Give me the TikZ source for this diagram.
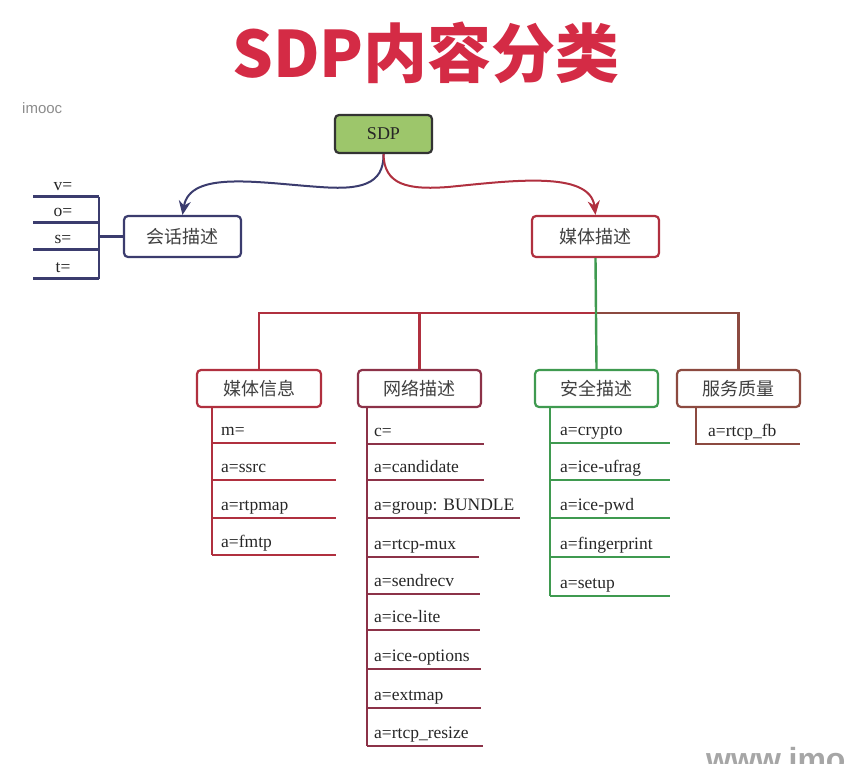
\documentclass[tikz,border=0pt]{standalone}
\usepackage{fontspec}
\setmainfont{Liberation Serif}
\newfontfamily\cjk{Noto Sans CJK SC}
\newfontfamily\sansf{Liberation Sans}
\usetikzlibrary{arrows.meta}
\definecolor{navy}{HTML}{3B3C6E}
\definecolor{rc}{HTML}{B0303F}
\definecolor{nc}{HTML}{8C3248}
\definecolor{gc}{HTML}{3F9A50}
\definecolor{bc}{HTML}{8C4A40}
\definecolor{sdpfill}{HTML}{9DC66B}
\definecolor{titlec}{HTML}{D42B45}
\begin{document}
\begin{tikzpicture}[x=1pt,y=-1pt,
  box/.style={draw, rounded corners=4pt, line width=2.2pt, fill=white, inner sep=0pt,
    font=\cjk\fontsize{18}{18}\selectfont, text=black!75},
  lbl/.style={font=\fontsize{17.5}{18}\selectfont, text=black!85, anchor=base west, inner sep=0pt},
  ln/.style={line width=2.4pt},
  arr/.style={line width=2pt, -{Stealth[length=14pt,width=12pt]}}]
\useasboundingbox (0,0) rectangle (845,763);
\clip (0,0) rectangle (845,763);

% title and marks
\node[font=\cjk\bfseries\fontsize{64}{64}\selectfont, text=titlec, anchor=base, inner sep=0pt] (title) at (426,77) {SDP内容分类};
\node[font=\sansf\fontsize{15}{15}\selectfont, text=black!45, anchor=base west, inner sep=0pt] (imooc) at (22,113) {imooc};
\node[font=\sansf\bfseries\fontsize{32}{32}\selectfont, text=black!35, anchor=base west, inner sep=0pt] (wm) at (706,770) {www.imooc.com};

% main nodes
\node[box, fill=sdpfill, draw=black!80, minimum width=97pt, minimum height=38pt,
  font=\fontsize{18}{18}\selectfont, text=black!85] (sdp) at (383.5,134) {SDP};
\node[box, draw=navy, minimum width=117pt, minimum height=41pt] (hw) at (182.5,236.5) {会话描述};
\node[box, draw=rc, minimum width=127pt, minimum height=41pt] (mt) at (595.5,236.5) {媒体描述};

\node[box, draw=rc, minimum width=124pt, minimum height=37pt] (c1) at (259,388.5) {媒体信息};
\node[box, draw=nc, minimum width=123pt, minimum height=37pt] (c2) at (419.5,388.5) {网络描述};
\node[box, draw=gc, minimum width=123pt, minimum height=37pt] (c3) at (596.5,388.5) {安全描述};
\node[box, draw=bc, minimum width=123pt, minimum height=37pt] (c4) at (738.5,388.5) {服务质量};

% curved arrows
\draw[arr, navy] (sdp.south) .. controls (384,185) and (360,190) .. (320,187)
  .. controls (260,183) and (190,170) .. (hw.north);
\draw[arr, rc] (sdp.south) .. controls (384,185) and (408,190) .. (448,187)
  .. controls (510,181) and (590,170) .. (mt.north);

% bus
\coordinate (bus) at (596,313);
\draw[ln, rc] (c1.north) |- (bus);
\draw[ln, rc] (c2.north) -- (c2.north |- bus);
\draw[ln, bc] (bus) -| (c4.north);
\draw[ln, gc] (mt.south) -- (c3.north);

% session list
\coordinate (sv0) at (99,196.5);
\coordinate (sv1) at (99,278.5);
\draw[ln, navy] (sv0) -- (sv1);
\draw[ln, navy] (hw.west) -- (hw.west -| sv0);
\foreach \y/\t/\n in {196.5/v=/v,222.5/o=/o,249.5/s=/s,278.5/t=/t}{
  \coordinate (s\n R) at (99,\y);
  \coordinate (s\n L) at (33,\y);
  \draw[ln, navy] (s\n L) -- (s\n R);
  \node[lbl, anchor=base] (s\n) at (63,{\y-6}) {\t};
}

% media info list
\coordinate (m0) at (212,407);
\coordinate (m1) at (212,555);
\draw[ln, rc] (m0) -- (m1);
\foreach \y/\t/\n in {443/m=/1,480/a=ssrc/2,518/a=rtpmap/3,555/a=fmtp/4}{
  \coordinate (mL\n) at (212,\y);
  \coordinate (mR\n) at (336,\y);
  \draw[ln, rc] (mL\n) -- (mR\n);
  \node[lbl] (mt\n) at (221,{\y-8}) {\t};
}

% network list
\coordinate (n0) at (367,407);
\coordinate (n1) at (367,746);
\draw[ln, nc] (n0) -- (n1);
\foreach \y/\r/\t/\n in {444/484/c=/1,480/484/a=candidate/2,518/520/a=group: BUNDLE/3,
  557/479/a=rtcp-mux/4,594/480/a=sendrecv/5,630/480/a=ice-lite/6,669/481/a=ice-options/7,
  708/481/a=extmap/8,746/483/a=rtcp\_resize/9}{
  \coordinate (nL\n) at (367,\y);
  \coordinate (nR\n) at (\r,\y);
  \draw[ln, nc] (nL\n) -- (nR\n);
  \node[lbl] (nt\n) at (374,{\y-8}) {\t};
}

% security list
\coordinate (g0) at (550,407);
\coordinate (g1) at (550,596);
\draw[ln, gc] (g0) -- (g1);
\foreach \y/\t/\n in {443/a=crypto/1,480/a=ice-ufrag/2,518/a=ice-pwd/3,557/a=fingerprint/4,596/a=setup/5}{
  \coordinate (gL\n) at (550,\y);
  \coordinate (gR\n) at (670,\y);
  \draw[ln, gc] (gL\n) -- (gR\n);
  \node[lbl] (gt\n) at (560,{\y-8}) {\t};
}

% qos list
\coordinate (q0) at (696,407);
\coordinate (q1) at (696,444);
\coordinate (qR) at (800,444);
\draw[ln, bc] (q0) -- (q1) -- (qR);
\node[lbl] (qt) at (708,436) {a=rtcp\_fb};
\end{tikzpicture}
\end{document}
